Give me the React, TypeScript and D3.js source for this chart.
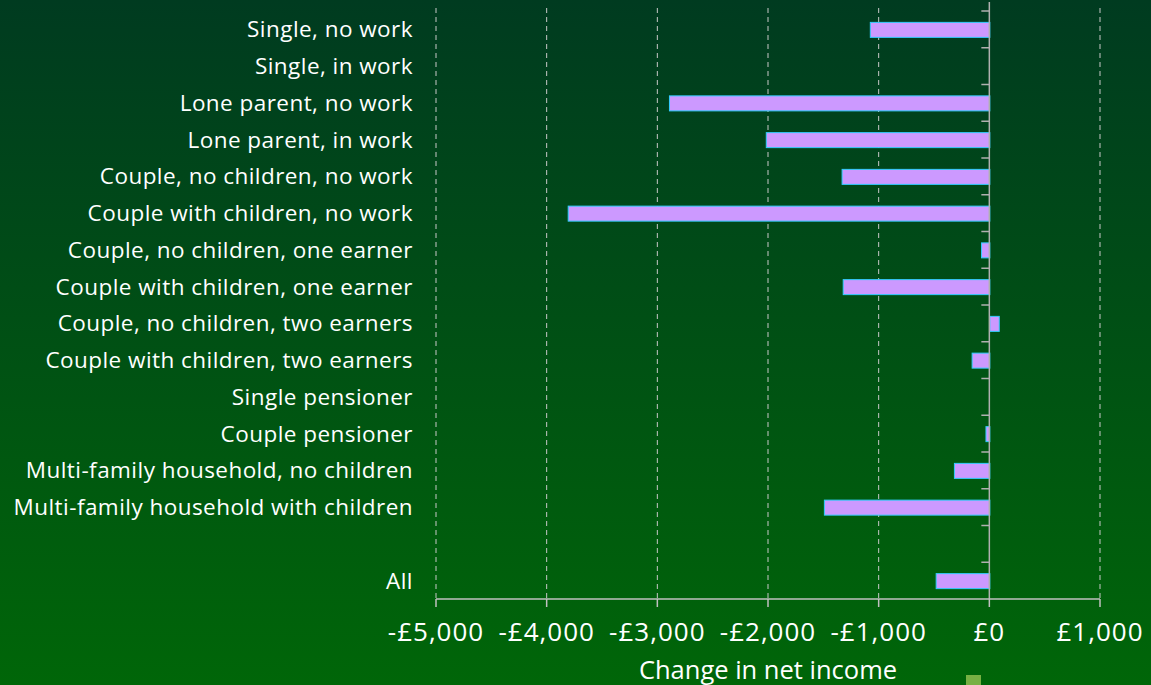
import React from 'react'
import * as d3 from 'd3'

const categories = [
  'Single, no work',
  'Single, in work',
  'Lone parent, no work',
  'Lone parent, in work',
  'Couple, no children, no work',
  'Couple with children, no work',
  'Couple, no children, one earner',
  'Couple with children, one earner',
  'Couple, no children, two earners',
  'Couple with children, two earners',
  'Single pensioner',
  'Couple pensioner',
  'Multi-family household, no children',
  'Multi-family household with children',
  '',
  'All',
]

const values = [
  -1080, 0, -2895, -2020, -1335, -3810, -75, -1325, 85, -160, 0, -35, -320, -1495, null, -485,
]

const xTicks = [-5000, -4000, -3000, -2000, -1000, 0, 1000]

const W = 1151
const H = 685

const App: React.FunctionComponent = () => {
  const reference = React.useRef<SVGSVGElement>(null)

  React.useEffect(() => {
    document.body.style.margin = '0'
    const svg = d3.select(reference.current)
    svg.selectAll('*').remove()

    const x = d3.scaleLinear().domain([-5000, 1000]).range([436, 1100])
    const y = d3
      .scaleBand()
      .domain(categories.map((_, i) => String(i)))
      .range([11, 599])
      .paddingInner(0)

    const defs = svg.append('defs')
    const grad = defs
      .append('linearGradient')
      .attr('id', 'bg')
      .attr('x1', 0)
      .attr('y1', 0)
      .attr('x2', 0)
      .attr('y2', 1)
    grad.append('stop').attr('offset', '0%').attr('stop-color', '#003b20')
    grad.append('stop').attr('offset', '100%').attr('stop-color', '#006608')

    svg.append('rect').attr('width', W).attr('height', H).attr('fill', 'url(#bg)')

    // gridlines
    svg
      .append('g')
      .selectAll('line')
      .data(xTicks.filter(d => d !== 0))
      .join('line')
      .attr('x1', d => x(d))
      .attr('x2', d => x(d))
      .attr('y1', 8)
      .attr('y2', 599)
      .attr('stroke', '#c8c8c8')
      .attr('stroke-width', 1)
      .attr('stroke-dasharray', '5,4')

    // bars
    const bh = 15
    svg
      .append('g')
      .selectAll('rect')
      .data(values.map((v, i) => ({ v, i })).filter(d => d.v !== null && d.v !== 0))
      .join('rect')
      .attr('x', d => Math.min(x(d.v as number), x(0)) + 0.5)
      .attr('y', d => (y(String(d.i)) as number) + (y.bandwidth() - bh) / 2 + 0.5)
      .attr('width', d => Math.abs(x(d.v as number) - x(0)))
      .attr('height', bh)
      .attr('fill', '#cc99ff')
      .attr('stroke', '#33ccff')
      .attr('stroke-width', 1)

    // y axis
    const yAxis = svg.append('g').attr('stroke', '#b0b0b0').attr('stroke-width', 1.5)
    yAxis
      .append('line')
      .attr('x1', x(0))
      .attr('x2', x(0))
      .attr('y1', 2)
      .attr('y2', 599)
    yAxis
      .selectAll('line.t')
      .data(categories.map((_, i) => i))
      .join('line')
      .attr('class', 't')
      .attr('x1', x(0) - 8)
      .attr('x2', x(0))
      .attr('y1', i => (y(String(i)) as number))
      .attr('y2', i => (y(String(i)) as number))

    // x axis
    const xAxis = svg.append('g').attr('stroke', '#c0c0c0').attr('stroke-width', 1.5)
    xAxis.append('line').attr('x1', x(-5000)).attr('x2', x(1000)).attr('y1', 599).attr('y2', 599)
    xAxis
      .selectAll('line.t')
      .data(xTicks)
      .join('line')
      .attr('class', 't')
      .attr('x1', d => x(d))
      .attr('x2', d => x(d))
      .attr('y1', 599)
      .attr('y2', 607)

    const font = "'Open Sans', sans-serif"

    svg
      .append('g')
      .selectAll('text')
      .data(categories)
      .join('text')
      .attr('x', 413)
      .attr('y', (_, i) => (y(String(i)) as number) + y.bandwidth() / 2)
      .attr('dy', '0.35em')
      .attr('text-anchor', 'end')
      .attr('fill', '#ffffff')
      .attr('font-family', font)
      .attr('font-size', 22.5)
      .attr('letter-spacing', 0.45)
      .text(d => d)

    const fmt = (d: number) => (d < 0 ? '-£' : '£') + d3.format(',')(Math.abs(d))
    svg
      .append('g')
      .selectAll('text')
      .data(xTicks)
      .join('text')
      .attr('x', d => x(d))
      .attr('y', 632)
      .attr('dy', '0.35em')
      .attr('text-anchor', 'middle')
      .attr('fill', '#ffffff')
      .attr('font-family', font)
      .attr('font-size', 26)
      .attr('letter-spacing', 1)
      .text(fmt)

    svg
      .append('text')
      .attr('x', 768)
      .attr('y', 670)
      .attr('dy', '0.35em')
      .attr('text-anchor', 'middle')
      .attr('fill', '#ffffff')
      .attr('font-family', font)
      .attr('font-size', 25.5)
      .text('Change in net income')

    svg
      .append('rect')
      .attr('x', 966)
      .attr('y', 675)
      .attr('width', 15)
      .attr('height', 15)
      .attr('fill', '#77b043')
  }, [])

  return <svg ref={reference} width={W} height={H} style={{ display: 'block' }} />
}

export default App
